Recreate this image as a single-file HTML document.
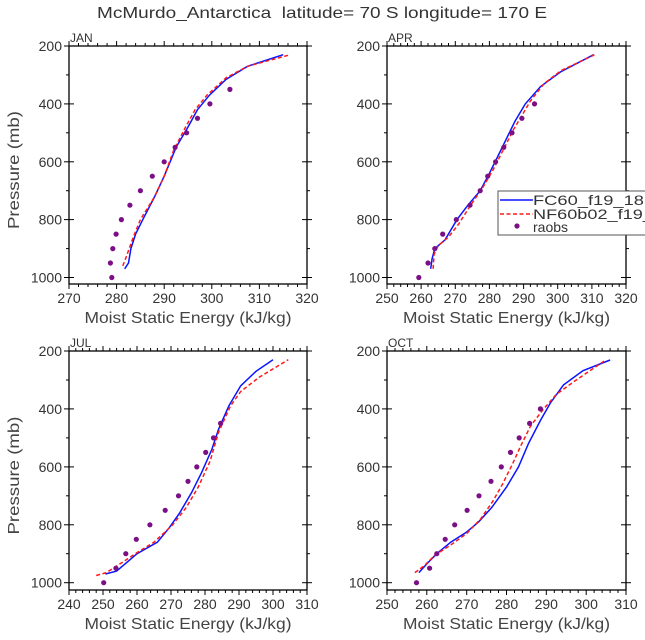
<!DOCTYPE html>
<html><head><meta charset="utf-8"><style>
html,body{margin:0;padding:0;background:#fff;}
svg{display:block;font-family:"Liberation Sans",sans-serif;}
</style></head><body>
<svg id="s" width="645" height="640" viewBox="0 0 645 640" xmlns="http://www.w3.org/2000/svg">
<text x="97" y="18" font-size="16" fill="#333" textLength="450" lengthAdjust="spacingAndGlyphs" xml:space="preserve">McMurdo_Antarctica  latitude= 70 S longitude= 170 E</text>
</svg>
<script>
const S=document.getElementById('s');let h='';
const panels=[
{L:69,R:307,T:46,p2:46,p10:277.5,B:284,x0:270,x1:320,name:'JAN',ylab:true,
blue:[[281.7,970],[282.5,950],[283,900],[284,850],[285.5,800],[288,720],[290,650],[292.5,550],[295,480],[297,420],[299.5,370],[303,315],[307.5,270],[315,230]],
red:[[281.3,960],[282,930],[283.5,860],[285,800],[288,720],[290,650],[292,560],[294.5,480],[296.5,420],[299,370],[303,310],[307.5,270],[316.5,230]],
ob:[[279,1000],[278.7,950],[279.2,900],[279.9,850],[281,800],[282.8,750],[285,700],[287.5,650],[290,600],[292.3,550],[294.7,500],[297,450],[299.6,400],[303.8,350]]},
{L:387,R:626,T:46,p2:46,p10:277.5,B:284,x0:250,x1:320,name:'APR',ylab:false,
blue:[[262.8,970],[263.2,935],[264,900],[267,870],[270.5,800],[273.7,750],[277.3,700],[280,640],[282.5,580],[285,520],[287.5,460],[290.5,400],[295,340],[300.8,290],[310.5,230]],
red:[[263.5,970],[263.8,920],[265,890],[268,860],[271,815],[274.5,750],[278,690],[281,630],[284,560],[287,490],[289.5,440],[292,390],[296,330],[301,285],[310.8,230]],
ob:[[259.3,1000],[262,950],[264,900],[266.3,850],[270.3,800],[274.3,750],[277.3,700],[279.5,650],[281.8,600],[284.2,550],[286.6,500],[289.5,450],[293.2,400]]},
{L:69,R:307,T:351,p2:351,p10:582.7,B:590,x0:240,x1:310,name:'JUL',ylab:true,
blue:[[250.7,970],[254,960],[257,930],[260,900],[266,860],[269.5,810],[272.5,760],[276,690],[279,620],[282,540],[284,470],[287,390],[290.5,320],[295,270],[300,230]],
red:[[248,975],[251,965],[255,935],[259.5,900],[265,860],[270.5,800],[274.5,740],[278,670],[281.5,580],[284,480],[287.5,390],[290.5,340],[296,290],[304.5,230]],
ob:[[250.2,1000],[253.8,950],[256.7,900],[259.8,850],[263.8,800],[268.3,750],[272.2,700],[275,650],[277.6,600],[280.2,550],[282.5,500],[284.6,450]]},
{L:387,R:626,T:351,p2:351,p10:582.7,B:590,x0:250,x1:310,name:'OCT',ylab:false,
blue:[[258,965],[260,935],[262.5,900],[266,860],[270,825],[273,790],[276.3,740],[280,670],[283,600],[285.5,520],[288.5,440],[291,380],[294.3,317],[299.2,268],[306,231]],
red:[[257,965],[259.5,940],[262,905],[266,870],[270,830],[273.5,780],[276.5,720],[279,660],[281.5,590],[283.5,530],[286,460],[289,405],[292.5,350],[297,305],[304.5,235]],
ob:[[257.4,1000],[260.7,950],[262.5,900],[264.6,850],[267,800],[270.1,750],[273.1,700],[276.1,650],[278.7,600],[281,550],[283.2,500],[285.8,450],[288.5,400]]}
];
for(const P of panels){
 const X=v=>P.L+(v-P.x0)/(P.x1-P.x0)*(P.R-P.L);
 const Y=p=>P.p2+(p-200)/800*(P.p10-P.p2);
 h+=`<rect x="${P.L}" y="${P.T}" width="${P.R-P.L}" height="${P.B-P.T}" fill="none" stroke="#000" stroke-width="1.3"/>`;
 for(let v=P.x0;v<=P.x1;v+=2){const x=X(v).toFixed(1);const M=(v%10==0);const l=M?5:3;
  h+=`<line x1="${x}" y1="${P.B}" x2="${x}" y2="${P.B+l}" stroke="#000"/><line x1="${x}" y1="${P.T}" x2="${x}" y2="${P.T-l}" stroke="#000"/>`;
  if(M)h+=`<text x="${x}" y="${P.B+19}" text-anchor="middle" font-size="14" fill="#333">${v}</text>`;}
 for(let p=200;p<=1000;p+=100){const y=Y(p).toFixed(1);const M=(p%200==0);const l=M?5:3;
  h+=`<line x1="${P.L-l}" y1="${y}" x2="${P.L+(M?5:0)}" y2="${y}" stroke="#000"/><line x1="${P.R-(M?5:0)}" y1="${y}" x2="${P.R+l}" y2="${y}" stroke="#000"/>`;
  if(M)h+=`<text x="${P.L-7}" y="${+y+5}" text-anchor="end" font-size="14" fill="#333">${p}</text>`;}
 h+=`<text x="${P.L+1}" y="${P.T-4}" font-size="12" fill="#333">${P.name}</text>`;
 h+=`<text x="${(P.L+P.R)/2-103.5}" y="${P.B+39}" font-size="16" fill="#444" textLength="207" lengthAdjust="spacingAndGlyphs">Moist Static Energy (kJ/kg)</text>`;
 if(P.ylab){const cy=(P.T+P.B)/2+5;h+=`<text x="0" y="0" transform="translate(19 ${cy+59}) rotate(-90)" font-size="16" fill="#444" textLength="118" lengthAdjust="spacingAndGlyphs">Pressure (mb)</text>`;}
 const pts=a=>a.map(d=>X(d[0]).toFixed(1)+','+Y(d[1]).toFixed(1)).join(' ');
 h+=`<polyline points="${pts(P.blue)}" fill="none" stroke="#0a14ff" stroke-width="1.5"/>`;
 h+=`<polyline points="${pts(P.red)}" fill="none" stroke="#ff1a1a" stroke-width="1.5" stroke-dasharray="4,2.5"/>`;
 for(const d of P.ob)h+=`<circle cx="${X(d[0]).toFixed(1)}" cy="${Y(d[1]).toFixed(1)}" r="2.6" fill="#7b0f86"/>`;
}
h+=`<rect x="498" y="191" width="160" height="44" fill="#fff" stroke="#555"/>`;
h+=`<line x1="500" y1="200" x2="533" y2="200" stroke="#0a14ff" stroke-width="1.5"/><text x="533" y="205" font-size="14" fill="#333" textLength="130" lengthAdjust="spacingAndGlyphs">FC60_f19_1811</text>`;
h+=`<line x1="500" y1="214" x2="533" y2="214" stroke="#ff1a1a" stroke-width="1.5" stroke-dasharray="4,2.5"/><text x="533" y="219" font-size="14" fill="#333" textLength="140" lengthAdjust="spacingAndGlyphs">NF60b02_f19_14</text>`;
h+=`<circle cx="517" cy="226" r="2.6" fill="#7b0f86"/><text x="533" y="232" font-size="14" fill="#333">raobs</text>`;
S.insertAdjacentHTML('beforeend',h);
</script>
</body></html>
